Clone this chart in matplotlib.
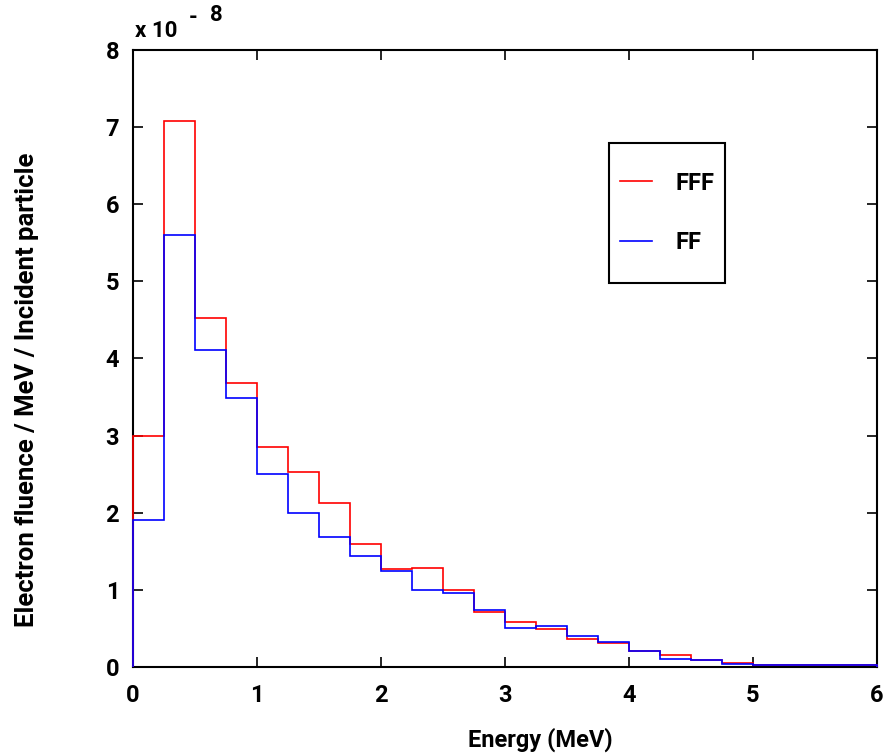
import numpy as np
import matplotlib.pyplot as plt
from matplotlib.patches import Rectangle

plt.rcParams['font.family'] = ['Roboto', 'DejaVu Sans']
plt.rcParams['font.weight'] = 'bold'

# bin edges in MeV (0.25 MeV bins up to 5, then one wide bin up to 6)
edges = [0, 0.25, 0.5, 0.75, 1.0, 1.25, 1.5, 1.75, 2.0, 2.25, 2.5, 2.75,
         3.0, 3.25, 3.5, 3.75, 4.0, 4.25, 4.5, 4.75, 5.0, 6.0]
# fluence in units of 1e-8
fff = [3.00, 7.08, 4.53, 3.68, 2.85, 2.53, 2.13, 1.60, 1.27, 1.28, 1.00,
       0.71, 0.58, 0.49, 0.36, 0.31, 0.21, 0.16, 0.09, 0.05, 0.02]
ff = [1.91, 5.60, 4.11, 3.49, 2.50, 2.00, 1.69, 1.44, 1.25, 1.00, 0.96,
      0.74, 0.51, 0.53, 0.40, 0.32, 0.21, 0.10, 0.09, 0.04, 0.02]

fig = plt.figure(figsize=(8.88, 7.55), dpi=100)
ax = fig.add_axes([0.1498, 0.1166, 0.8378, 0.8172])

ax.stairs(fff, edges, baseline=0, color='red', linewidth=1.2, label='FFF',
          zorder=3, clip_on=False)
ax.stairs(ff, edges, baseline=0, color='blue', linewidth=1.2, label='FF',
          zorder=4, clip_on=False)

ax.set_xlim(0, 6)
ax.set_ylim(0, 8)
ax.set_xticks(range(0, 7))
ax.set_yticks(range(0, 9))
ax.tick_params(direction='in', top=True, right=True, length=7, width=1.2,
               labelsize=17)
ax.tick_params(axis='x', pad=12)
ax.tick_params(axis='y', pad=10)
for s in ax.spines.values():
    s.set_linewidth(1.5)

ax.set_xlabel('Energy (MeV)', fontsize=17, fontweight='bold')
ax.xaxis.set_label_coords(0.547, -0.099)
ax.set_ylabel('Electron fluence / MeV / Incident particle', fontsize=18.5,
              fontweight='bold', va='center')
ax.yaxis.set_label_coords(-0.142, 0.449)

fig.text(0.152, 0.945, 'x 10', fontsize=16, fontweight='bold', ha='left', va='bottom')
fig.text(0.212, 0.962, '-', fontsize=16, fontweight='bold', ha='left', va='bottom')
fig.text(0.237, 0.965, '8', fontsize=16, fontweight='bold', ha='left', va='bottom')

# legend box drawn separately so its proportions match
ax.add_patch(Rectangle((0.640, 0.622), 0.156, 0.227, transform=ax.transAxes,
                       fill=False, edgecolor='black', linewidth=1.5, zorder=5))
leg = ax.legend(loc='center', bbox_to_anchor=(0.718, 0.736), frameon=False,
                fontsize=17, handlelength=1.35, handletextpad=1.0,
                labelspacing=1.55, borderpad=0.0)

fig.savefig('out.png', dpi=100)
